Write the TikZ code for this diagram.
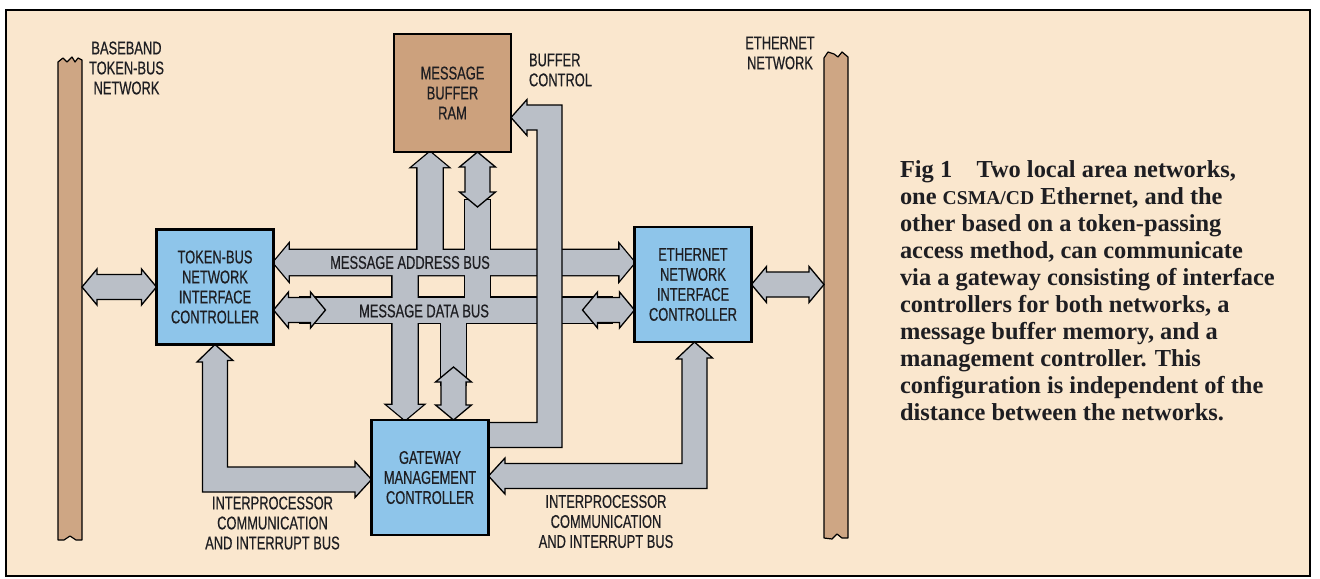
\documentclass[tikz,border=0pt]{standalone}
\usepackage{fontspec}
\setmainfont{Liberation Serif}
\newfontfamily\labelfont[FakeStretch=0.7,FakeBold=0.5]{Liberation Sans}
\usetikzlibrary{calc}

\definecolor{paper}{RGB}{250,231,206}
\definecolor{busgray}{RGB}{186,191,199}
\definecolor{nicblue}{RGB}{142,197,234}
\definecolor{ramtan}{RGB}{204,161,125}
\definecolor{cabletan}{RGB}{206,166,132}
\definecolor{ink}{RGB}{30,30,34}

\pgfdeclarelayer{back}
\pgfdeclarelayer{wires}
\pgfsetlayers{back,wires,main}

% block arrows (picture units, y grows downwards)
% horizontal, heads at both ends
\newcommand\hdbl[2]{(#1) -- ++(15,-18) -- ++(0,5.5) -- ($(#2)+(-15,-12.5)$) -- ++(0,-5.5) -- (#2) -- ++(-15,18) -- ++(0,-5.5) -- ($(#1)+(15,12.5)$) -- ++(0,5.5) -- cycle}
% vertical, heads at both ends
\newcommand\vdbl[2]{(#1) -- ++(18,15) -- ++(-5.5,0) -- ($(#2)+(12.5,-15)$) -- ++(5.5,0) -- (#2) -- ++(-18,-15) -- ++(5.5,0) -- ($(#1)+(-12.5,15)$) -- ++(-5.5,0) -- cycle}
% vertical, head at the top only
\newcommand\vup[2]{(#1) -- ++(18,15) -- ++(-5.5,0) -- ($(#2)+(12.5,0)$) -- ++(-25,0) -- ($(#1)+(-12.5,15)$) -- ++(-5.5,0) -- cycle}
% vertical, head at the bottom only
\newcommand\vdown[2]{($(#1)+(-12.5,0)$) -- ++(25,0) -- ($(#2)+(12.5,-15)$) -- ++(5.5,0) -- (#2) -- ++(-18,-15) -- ++(5.5,0) -- cycle}

% address and data buses with their branches; called once for the
% outline and once for the fill so that the pieces merge
\newcommand\mainbus[1]{%
  \path[#1] \hdbl{tbnic.east |- addr}{ethnic.west |- addr};
  \path[#1] (300,297.5) rectangle (612,322.5);
  \path[#1] \vup{ram.south -| colA}{colA |- addr};
  \path[#1] \vdown{colB |- addr}{gmc.north -| colB};
  \path[#1] (465,200) rectangle (490,310);
  \path[#1] (441,310) rectangle (466,385);}

\begin{document}
\begin{tikzpicture}[x=0.5pt,y=-0.5pt,
  every node/.style={inner sep=0pt,outer sep=0pt,text=ink},
  lbl/.style={font=\labelfont\fontsize{9.2}{10}\selectfont,align=center},
  unit/.style={lbl,draw=black,line width=1.3pt,minimum width=58.5pt,minimum height=57.5pt},
  nic/.style={unit,fill=nicblue},
  membox/.style={unit,fill=ramtan,minimum height=59pt},
  bus/.style={fill=busgray,draw=black,line width=.65pt,line join=miter},
  busedge/.style={draw=black,line width=1.3pt,line join=miter},
  busbody/.style={fill=busgray},
  cable/.style={fill=cabletan,draw=black,line width=.6pt,line join=round}]

\useasboundingbox (0,0) rectangle (1320,578);

% units
\node[nic] (tbnic) at (215,287) {TOKEN-BUS\\NETWORK\\INTERFACE\\CONTROLLER};
\node[nic] (ethnic) at (693,284.5) {ETHERNET\\NETWORK\\INTERFACE\\CONTROLLER};
\node[nic] (gmc) at (430,477.5) {GATEWAY\\MANAGEMENT\\CONTROLLER};
\node[membox] (ram) at (452.5,93) {MESSAGE\\BUFFER\\RAM};

% bus rows and columns
\coordinate (addr) at (0,262.5);
\coordinate (data) at (0,310);
\coordinate (colA) at (430,0);
\coordinate (colB) at (405,0);
\coordinate (colC) at (477.5,0);
\coordinate (colD) at (453.5,0);
\coordinate (bcl) at (0,435);
\coordinate (bch) at (0,117.5);
\coordinate (ipl) at (215,0);
\coordinate (ipb) at (0,479.5);
\coordinate (ipr) at (694.5,0);
\coordinate (ipc) at (0,476);
\coordinate (tbport) at (82,287);
\coordinate (ethport) at (824,284.5);
\coordinate (dl) at ($(tbnic.east |- data)+(52,0)$);
\coordinate (dr) at ($(ethnic.west |- data)+(-52,0)$);
\coordinate (rd) at ($(ram.south -| colC)+(0,55)$);
\coordinate (gu) at ($(gmc.north -| colD)+(0,-53)$);

\begin{pgfonlayer}{back}
\fill[white] (0,0) rectangle (1320,578);
\filldraw[fill=paper,draw=black,line width=1pt] (6,10) rectangle (1310,576);
% the two networks
\path[cable] (58,540) -- (58,62) -- (63,58) -- (67,62) -- (72,57) -- (75,62) -- (78,58) -- (82,60)
  -- (82,540) -- (76,540) -- (70,536) -- (64,540) -- cycle;
\path[cable] (824,538) -- (824,58) -- (828,52) -- (834,54) -- (838,57) -- (842,52) -- (848,57)
  -- (848,538) -- (842,538) -- (837,534) -- (832,539) -- cycle;
\end{pgfonlayer}

\begin{pgfonlayer}{wires}
\mainbus{busedge}
\mainbus{busbody}
% bidirectional ends of the data bus
\draw[bus] \hdbl{tbnic.east |- data}{dl};
\draw[bus] \hdbl{dr}{ethnic.west |- data};
\draw[bus] \vdbl{ram.south -| colC}{rd};
\draw[bus] \vdbl{gu}{gmc.north -| colD};
% buffer control
\draw[bus] ($(gmc.east |- bcl)+(-4,-12.5)$) -- (537,422.5) -- (537,130) -- (527,130) -- (527,135.5)
  -- (ram.east |- bch) -- (527,99.5) -- (527,105) -- (562,105) -- (562,447.5)
  -- ($(gmc.east |- bcl)+(-4,12.5)$) -- cycle;
% interprocessor buses
\draw[bus] (tbnic.south -| ipl) -- ++(18,16) -- ++(-5.5,0) -- (227.5,467) -- (355,467) -- (355,461.5)
  -- (gmc.west |- ipb) -- (355,497.5) -- (355,492) -- (202.5,492) -- (202.5,362) -- (197,362) -- cycle;
\draw[bus] (ethnic.south -| ipr) -- ++(18,16) -- ++(-5.5,0) -- (707,488.5) -- (505,488.5) -- (505,494)
  -- (gmc.east |- ipc) -- (505,458) -- (505,463.5) -- (682,463.5) -- (682,359) -- (676.5,359) -- cycle;
% network links
\draw[bus] \hdbl{tbport}{tbnic.west};
\draw[bus] \hdbl{ethnic.east}{ethport};
\end{pgfonlayer}

% labels
\node[lbl] (tbnetlbl) at (126.5,68) {BASEBAND\\TOKEN-BUS\\NETWORK};
\node[lbl] (ethnetlbl) at (780,53) {ETHERNET\\NETWORK};
\node[lbl,align=left,anchor=west] (bufctl) at (529,70) {BUFFER\\CONTROL};
\node[lbl] (addrlbl) at (410,262.5) {MESSAGE ADDRESS BUS};
\node[lbl] (datalbl) at (424,311) {MESSAGE DATA BUS};
\node[lbl] (iplbl) at (272.5,523) {INTERPROCESSOR\\COMMUNICATION\\AND INTERRUPT BUS};
\node[lbl] (iprlbl) at (606,521.5) {INTERPROCESSOR\\COMMUNICATION\\AND INTERRUPT BUS};

\node[anchor=north west,align=left,font=\bfseries\fontsize{12.2}{13.5}\selectfont] (caption) at (900,161)
  {Fig 1\quad Two local area networks,\\
   one {\fontsize{9.8}{13.5}\selectfont CSMA/CD} Ethernet, and the\\
   other based on a token-passing\\
   access method, can communicate\\
   via a gateway consisting of interface\\
   controllers for both networks, a\\
   message buffer memory, and a\\
   management controller. This\\
   configuration is independent of the\\
   distance between the networks.};
\end{tikzpicture}
\end{document}
